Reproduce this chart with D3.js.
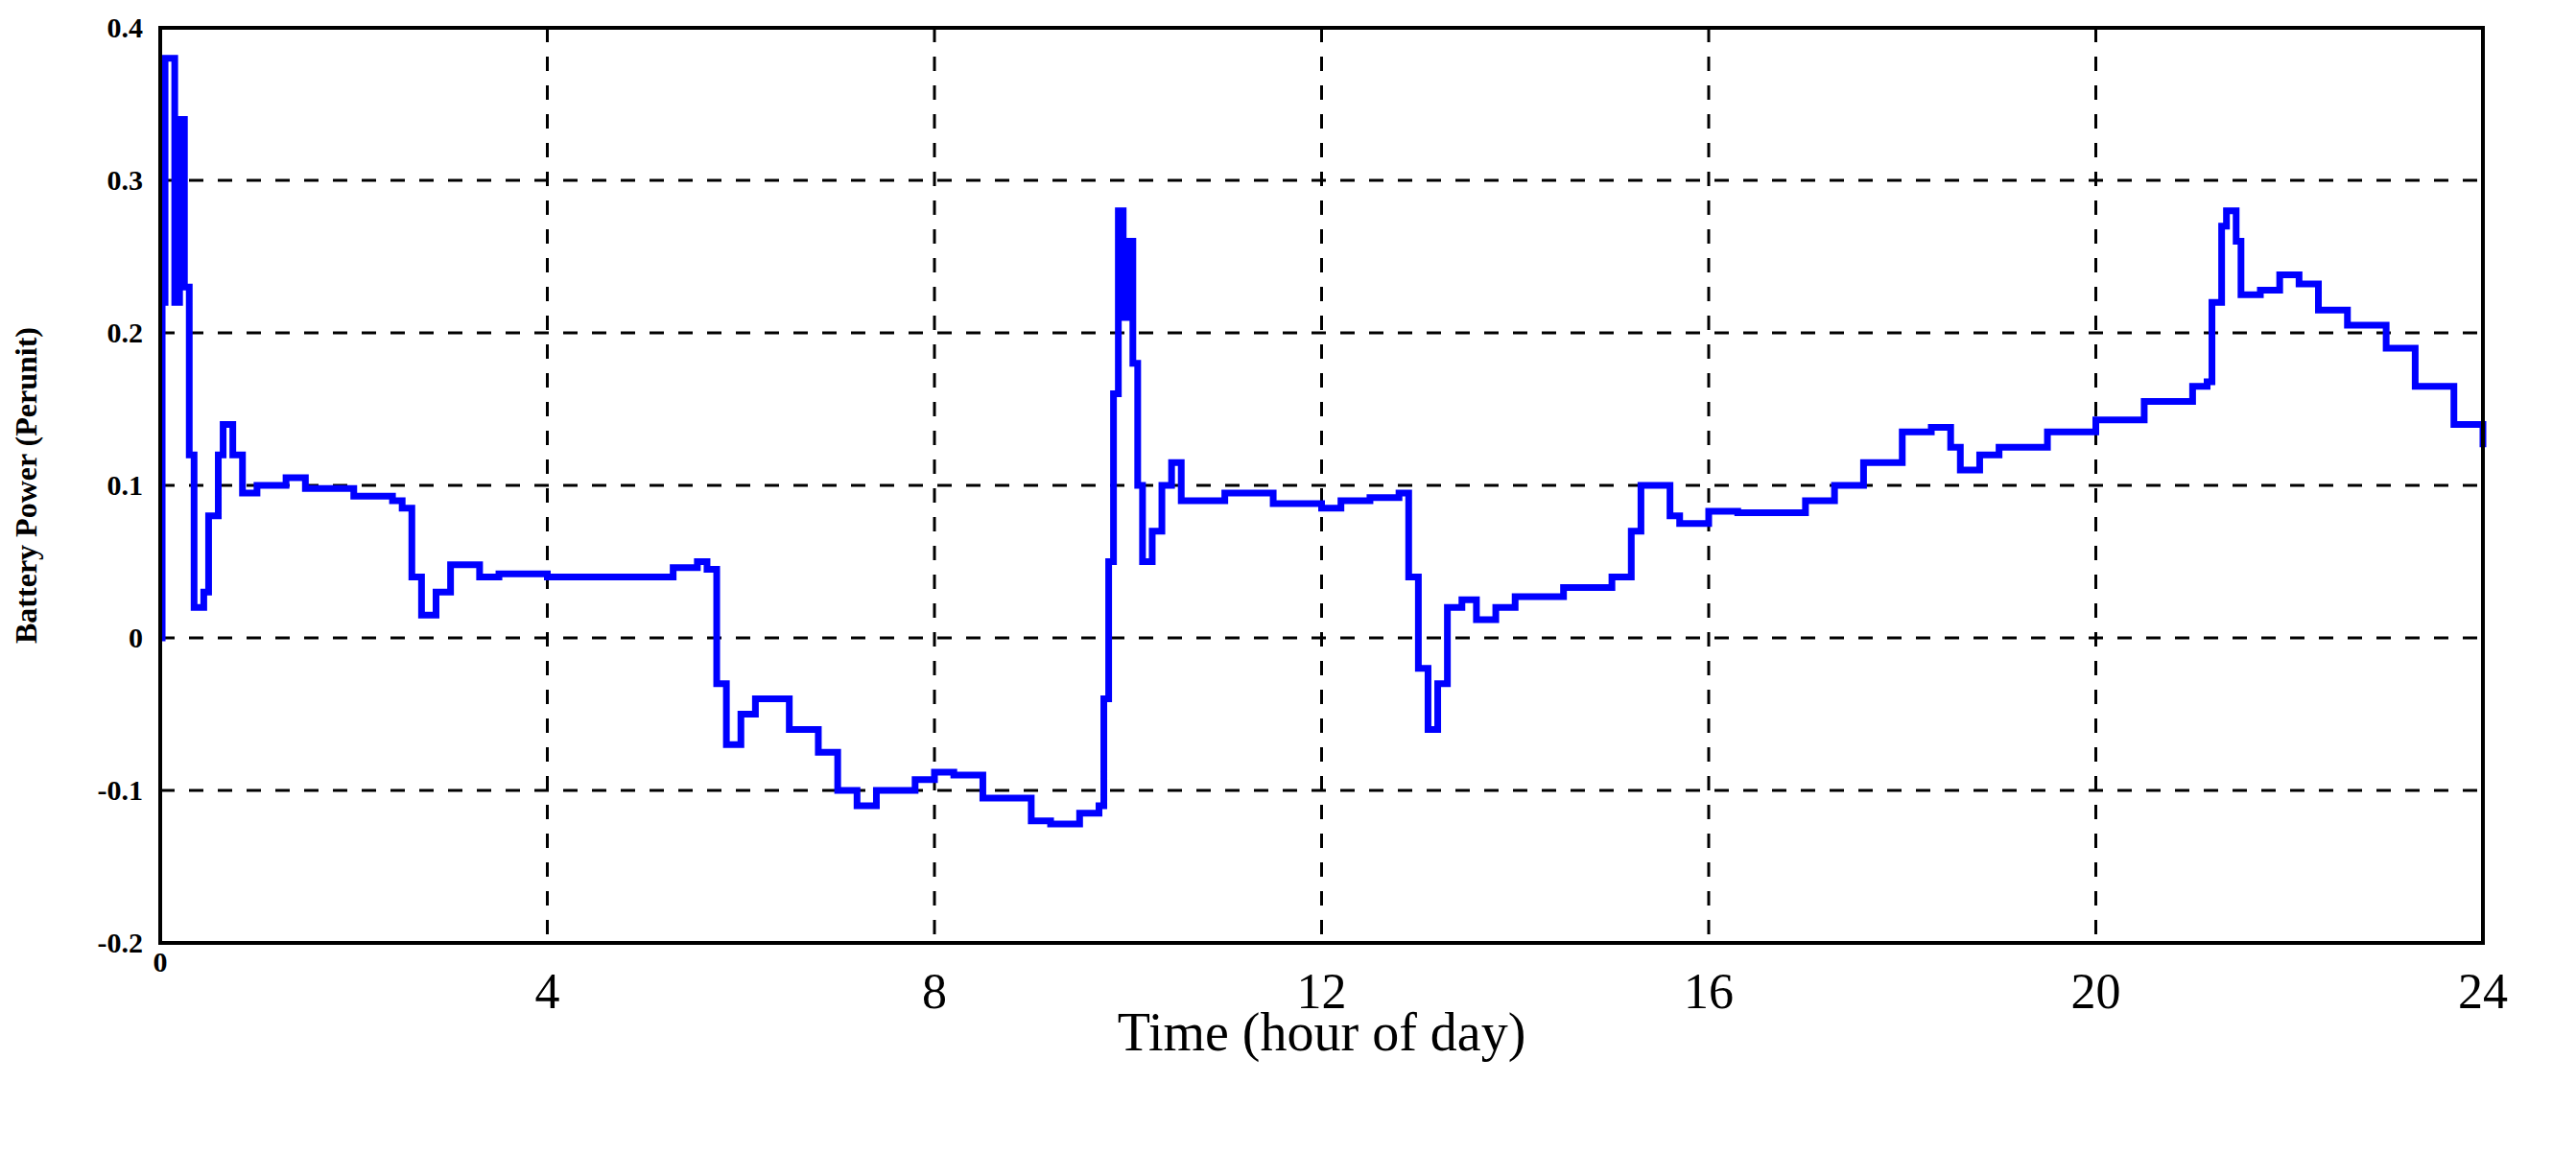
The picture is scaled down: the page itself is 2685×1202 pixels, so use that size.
<!DOCTYPE html>
<html>
<head>
<meta charset="utf-8">
<script src="https://d3js.org/d3.v7.min.js"></script>
<style>
  body { margin: 0; background: #fff; }
  text { font-family: "Liberation Serif", "DejaVu Serif", serif; }
</style>
</head>
<body>
<script>
// battery power trace (per unit) vs hour of day
var hours = [0,0.02,0.05,0.1,0.15,0.2,0.25,0.3,0.35,0.45,0.5,0.6,0.65,0.75,0.85,1.0,1.3,1.5,2.0,2.4,2.5,2.6,2.7,2.85,3.0,3.3,3.5,4,5,5.3,5.55,5.65,5.75,5.85,6,6.15,6.5,6.8,7.0,7.2,7.4,7.8,8.0,8.2,8.5,9.0,9.2,9.5,9.7,9.75,9.8,9.85,9.9,9.95,10.0,10.05,10.1,10.15,10.25,10.35,10.45,10.55,10.8,11,11.5,12,12.2,12.5,12.8,12.9,13.0,13.1,13.2,13.3,13.45,13.6,13.8,14,14.5,15,15.2,15.3,15.45,15.6,15.7,16.0,16.3,17.0,17.3,17.6,18.0,18.3,18.5,18.6,18.8,19.0,19.5,20,20.5,21.0,21.15,21.2,21.3,21.35,21.45,21.5,21.7,21.9,22.1,22.3,22.6,23.0,23.3,23.7,24.0];
var power = [0,0.22,0.38,0.38,0.22,0.34,0.23,0.12,0.02,0.03,0.08,0.12,0.14,0.12,0.095,0.10,0.105,0.098,0.093,0.09,0.085,0.04,0.015,0.03,0.048,0.04,0.042,0.04,0.04,0.046,0.05,0.045,-0.03,-0.07,-0.05,-0.04,-0.06,-0.075,-0.1,-0.11,-0.1,-0.093,-0.088,-0.09,-0.105,-0.12,-0.122,-0.115,-0.11,-0.04,0.05,0.16,0.28,0.21,0.26,0.18,0.10,0.05,0.07,0.1,0.115,0.09,0.09,0.095,0.088,0.085,0.09,0.092,0.095,0.04,-0.02,-0.06,-0.03,0.02,0.025,0.012,0.02,0.027,0.033,0.04,0.07,0.1,0.1,0.08,0.075,0.083,0.082,0.09,0.1,0.115,0.135,0.138,0.125,0.11,0.12,0.125,0.135,0.143,0.155,0.165,0.168,0.22,0.27,0.28,0.26,0.225,0.228,0.238,0.232,0.215,0.205,0.19,0.165,0.14,0.125];
var xTicks = [0,4,8,12,16,20,24];
var yTicks = [-0.2,-0.1,0,0.1,0.2,0.3,0.4];

var W = 2685, H = 1202;
var m = {left:167, top:29, right:97, bottom:219};
var svg = d3.select("body").append("svg").attr("width", W).attr("height", H);

var x = d3.scaleLinear().domain([0,24]).range([m.left, W - m.right]);
var y = d3.scaleLinear().domain([-0.2,0.4]).range([H - m.bottom, m.top]);

// dashed grid
svg.selectAll(".gx").data(xTicks.slice(1,-1)).enter().append("line")
  .attr("x1", d => x(d)).attr("x2", d => x(d))
  .attr("y1", y(0.4)).attr("y2", y(-0.2))
  .attr("stroke", "#000").attr("stroke-width", 3).attr("stroke-dasharray", "15,15");
svg.selectAll(".gy").data(yTicks.slice(1,-1)).enter().append("line")
  .attr("x1", x(0)).attr("x2", x(24))
  .attr("y1", d => y(d)).attr("y2", d => y(d))
  .attr("stroke", "#000").attr("stroke-width", 3).attr("stroke-dasharray", "15,15");

// the trace
var line = d3.line().x((d, i) => x(hours[i])).y(d => y(d)).curve(d3.curveStepAfter);
svg.append("path").datum(power).attr("d", line)
  .attr("fill", "none").attr("stroke", "#0000ff").attr("stroke-width", 7);

// frame
svg.append("rect").attr("x", x(0)).attr("y", y(0.4))
  .attr("width", x(24) - x(0)).attr("height", y(-0.2) - y(0.4))
  .attr("fill", "none").attr("stroke", "#000").attr("stroke-width", 4);

// y tick labels
svg.selectAll(".yl").data(yTicks).enter().append("text")
  .attr("x", x(0) - 18).attr("y", d => y(d) + 10)
  .attr("text-anchor", "end").attr("font-size", 30).attr("font-weight", "bold")
  .text(d => d3.format(".1f")(d).replace("0.0", "0").replace("−", "-"));

// x tick labels
svg.selectAll(".xl").data(xTicks).enter().append("text")
  .attr("x", d => x(d)).attr("y", d => d === 0 ? y(-0.2) + 30 : y(-0.2) + 68)
  .attr("text-anchor", "middle")
  .attr("font-size", d => d === 0 ? 30 : 52)
  .attr("font-weight", d => d === 0 ? "bold" : "normal")
  .text(d => d);

// axis titles
svg.append("text").attr("x", (x(0) + x(24)) / 2).attr("y", 1095)
  .attr("text-anchor", "middle").attr("font-size", 56)
  .text("Time (hour of day)");
svg.append("text")
  .attr("transform", "translate(38," + y(0.1) + ") rotate(-90)")
  .attr("text-anchor", "middle").attr("font-size", 32).attr("font-weight", "bold")
  .text("Battery Power (Perunit)");
</script>
</body>
</html>
